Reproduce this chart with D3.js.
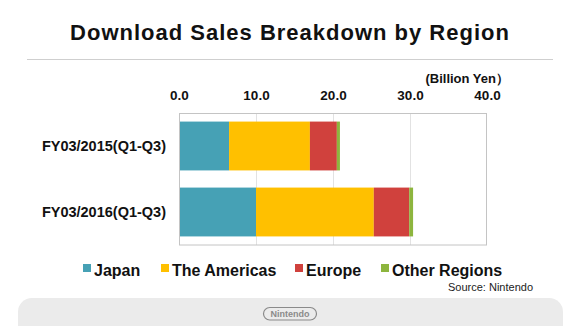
<!DOCTYPE html>
<html><head><meta charset="utf-8">
<script src="https://cdn.jsdelivr.net/npm/d3@7/dist/d3.min.js"></script>
<style>body{margin:0;background:#fff;}svg{display:block;font-family:"Liberation Sans",Arial,sans-serif;}</style>
</head><body>
<script>
const categories = ["FY03/2015(Q1-Q3)", "FY03/2016(Q1-Q3)"];
const seriesNames = ["Japan", "The Americas", "Europe", "Other Regions"];
const japan = [6.5, 10.0];
const americas = [10.5, 15.3];
const europe = [3.5, 4.6];
const other = [0.4, 0.5];
const tickValues = [0, 10, 20, 30, 40];
const colors = ["#46a1b5", "#ffc000", "#d0413d", "#8db53e"];

const W = 580, H = 326;
const FONT = "'Liberation Sans',Arial,sans-serif";
const svg = d3.select("body").append("svg").attr("width", W).attr("height", H);

// title
svg.append("text").attr("x", 290).attr("y", 40).attr("text-anchor", "middle")
  .attr("font-size", 22).attr("font-weight", "bold").attr("letter-spacing", 1).attr("fill", "#111")
  .text("Download Sales Breakdown by Region");
svg.append("line").attr("x1", 27).attr("x2", 553).attr("y1", 59.5).attr("y2", 59.5)
  .attr("stroke", "#cfcfcf").attr("stroke-width", 1.2);

const x = d3.scaleLinear().domain([0, 40]).range([179, 487]);
const y = d3.scaleBand().domain(categories).range([113, 245]).paddingInner(0.26).paddingOuter(0.13);

// gridlines
svg.append("g").selectAll("line").data(tickValues.slice(1, -1)).join("line")
  .attr("x1", d => x(d) + 0.5).attr("x2", d => x(d) + 0.5).attr("y1", 113).attr("y2", 245)
  .attr("stroke", "#e2e2e2");

// stacked bars
const rows = categories.map((c, i) => ({cat: c, Japan: japan[i], "The Americas": americas[i], Europe: europe[i], "Other Regions": other[i]}));
const stack = d3.stack().keys(seriesNames)(rows);
svg.append("g").selectAll("g").data(stack).join("g").attr("fill", (d, i) => colors[i])
  .selectAll("rect").data(d => d).join("rect")
  .attr("x", d => x(d[0])).attr("width", d => x(d[1]) - x(d[0]))
  .attr("y", d => y(d.data.cat)).attr("height", y.bandwidth());

// plot border
svg.append("rect").attr("x", 179.5).attr("y", 113.5).attr("width", 307).attr("height", 131.5)
  .attr("fill", "none").attr("stroke", "#c4c4c4");

// top axis
const axis = d3.axisTop(x).tickValues(tickValues).tickFormat(d3.format(".1f")).tickSize(0).tickPadding(0);
const gA = svg.append("g").attr("transform", "translate(0,100)").call(axis);
gA.select(".domain").remove();
gA.selectAll("text").attr("font-size", 13.5).attr("font-weight", "bold").attr("fill", "#111")
  .attr("font-family", FONT).attr("dy", 0);

svg.append("text").attr("x", 509).attr("y", 83).attr("text-anchor", "end")
  .attr("font-size", 13).attr("font-weight", "bold").attr("fill", "#111").text("(Billion Yen）");

// category labels
const yAxis = d3.axisLeft(y).tickSize(0).tickPadding(13);
const gY = svg.append("g").attr("transform", "translate(179,0)").call(yAxis);
gY.select(".domain").remove();
gY.selectAll("text").attr("font-size", 14.5).attr("font-weight", "bold").attr("fill", "#111")
  .attr("font-family", FONT);

// legend
const legX = [83, 161, 295, 381];
const leg = svg.append("g").selectAll("g").data(seriesNames).join("g")
  .attr("transform", (d, i) => `translate(${legX[i]},0)`);
leg.append("rect").attr("x", 0).attr("y", 264).attr("width", 8).attr("height", 8).attr("fill", (d, i) => colors[i]);
leg.append("text").attr("x", 11).attr("y", 275.5).attr("font-size", 16).attr("font-weight", "bold").attr("fill", "#111").text(d => d);

svg.append("text").attr("x", 533).attr("y", 291).attr("text-anchor", "end")
  .attr("font-size", 11).attr("fill", "#222").text("Source: Nintendo");

// footer
svg.append("rect").attr("x", 18).attr("y", 298).attr("width", 545).attr("height", 60).attr("rx", 14)
  .attr("fill", "#ebebeb");
svg.append("rect").attr("x", 263.5).attr("y", 307.5).attr("width", 53).attr("height", 12.5).attr("rx", 6.25)
  .attr("fill", "none").attr("stroke", "#8a8a8a").attr("stroke-width", 1.2);
svg.append("text").attr("x", 290).attr("y", 317.3).attr("text-anchor", "middle")
  .attr("font-size", 9).attr("font-weight", "bold").attr("fill", "#8a8a8a").text("Nintendo");
</script>
</body></html>
